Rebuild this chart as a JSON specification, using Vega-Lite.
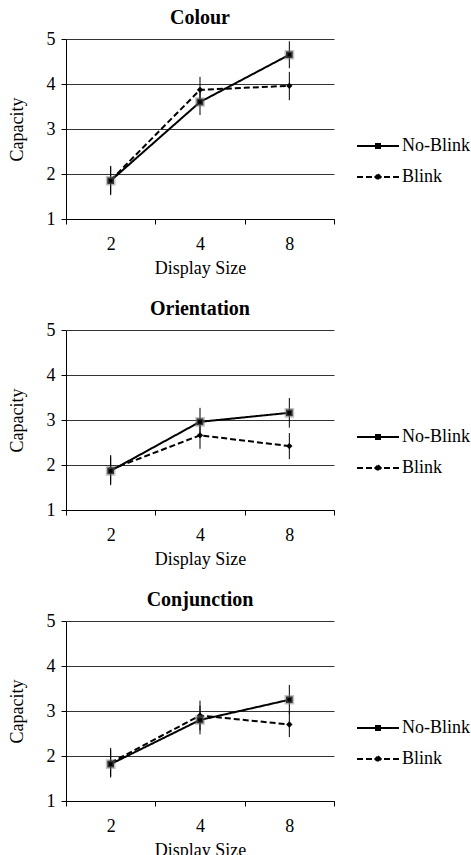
{
  "$schema": "https://vega.github.io/schema/vega-lite/v6.json",
  "padding": {"left": 8, "top": 8, "right": 0, "bottom": 0},
  "spacing": 22,
  "datasets": {
    "d": [
      {"task": "Colour", "size": 2, "cond": "No-Blink", "cap": 1.85, "lo": 1.53, "hi": 2.17},
      {"task": "Colour", "size": 4, "cond": "No-Blink", "cap": 3.6, "lo": 3.31, "hi": 3.89},
      {"task": "Colour", "size": 8, "cond": "No-Blink", "cap": 4.65, "lo": 4.35, "hi": 4.95},
      {"task": "Colour", "size": 2, "cond": "Blink", "cap": 1.86, "lo": 1.55, "hi": 2.18},
      {"task": "Colour", "size": 4, "cond": "Blink", "cap": 3.87, "lo": 3.58, "hi": 4.16},
      {"task": "Colour", "size": 8, "cond": "Blink", "cap": 3.96, "lo": 3.64, "hi": 4.27},
      {"task": "Orientation", "size": 2, "cond": "No-Blink", "cap": 1.87, "lo": 1.55, "hi": 2.19},
      {"task": "Orientation", "size": 4, "cond": "No-Blink", "cap": 2.96, "lo": 2.65, "hi": 3.27},
      {"task": "Orientation", "size": 8, "cond": "No-Blink", "cap": 3.16, "lo": 2.83, "hi": 3.49},
      {"task": "Orientation", "size": 2, "cond": "Blink", "cap": 1.9, "lo": 1.58, "hi": 2.22},
      {"task": "Orientation", "size": 4, "cond": "Blink", "cap": 2.66, "lo": 2.36, "hi": 2.96},
      {"task": "Orientation", "size": 8, "cond": "Blink", "cap": 2.42, "lo": 2.13, "hi": 2.71},
      {"task": "Conjunction", "size": 2, "cond": "No-Blink", "cap": 1.82, "lo": 1.52, "hi": 2.14},
      {"task": "Conjunction", "size": 4, "cond": "No-Blink", "cap": 2.8, "lo": 2.48, "hi": 3.12},
      {"task": "Conjunction", "size": 8, "cond": "No-Blink", "cap": 3.25, "lo": 2.93, "hi": 3.58},
      {"task": "Conjunction", "size": 2, "cond": "Blink", "cap": 1.85, "lo": 1.55, "hi": 2.18},
      {"task": "Conjunction", "size": 4, "cond": "Blink", "cap": 2.9, "lo": 2.57, "hi": 3.23},
      {"task": "Conjunction", "size": 8, "cond": "Blink", "cap": 2.7, "lo": 2.42, "hi": 2.98}
    ]
  },
  "config": {
    "font": "Liberation Serif",
    "view": {"stroke": null},
    "title": {"font": "Liberation Serif", "fontSize": 20, "fontWeight": "bold", "color": "black", "offset": 2},
    "axis": {
      "labelFont": "Liberation Serif", "titleFont": "Liberation Serif",
      "labelFontSize": 18, "titleFontSize": 18, "titleFontWeight": "normal",
      "labelColor": "black", "titleColor": "black",
      "domainColor": "black", "tickColor": "black", "tickSize": 5, "domainWidth": 1, "tickWidth": 1
    },
    "legend": {"labelFont": "Liberation Serif", "labelFontSize": 18, "labelColor": "black", "title": null, "orient": "none", "labelOffset": 2, "padding": 0, "rowPadding": -17,
      "symbolSize": 1764, "symbolStrokeWidth": 2, "symbolStrokeColor": "black", "symbolFillColor": "black", "symbolOpacity": 1, "legendX": 290, "legendY": 85}
  },
  "resolve": {"legend": {"shape": "independent", "strokeDash": "independent"}},
  "vconcat": [
    {
      "title": "Colour", "width": 268, "height": 180,
      "data": {"name": "d"},
      "transform": [{"filter": "datum.task === 'Colour'"}],
      "encoding": {
        "x": {"field": "size", "type": "quantitative",
          "scale": {"type": "log", "base": 2, "domain": [1.4142135623730951, 11.313708498984761], "nice": false, "zero": false},
          "axis": {"title": "Display Size", "grid": false, "labelOverlap": false, "labelFlush": false, "labelPadding": 11, "titlePadding": 6,
            "values": [1.4142135623730951, 2, 2.8284271247461903, 4, 5.656854249492381, 8, 11.313708498984761],
            "tickOpacity": {"condition": {"test": "abs(datum.value - round(datum.value)) < 0.001", "value": 0}, "value": 1},
            "labelExpr": "abs(datum.value - round(datum.value)) < 0.001 ? datum.label : ''"}},
        "y": {"field": "cap", "type": "quantitative",
          "scale": {"domain": [1, 5], "nice": false, "zero": false},
          "axis": {"title": "Capacity", "values": [1, 2, 3, 4, 5], "grid": true, "gridColor": "#333", "gridWidth": 1, "labelPadding": 6, "titlePadding": 20}}
      },
      "layer": [
        {"mark": {"type": "rule", "color": "black", "strokeWidth": 1}, "encoding": {"y": {"field": "lo", "type": "quantitative"}, "y2": {"field": "hi"}}},
        {"mark": {"type": "line", "color": "black", "strokeWidth": 2},
          "encoding": {"strokeDash": {"field": "cond", "type": "nominal", "scale": {"domain": ["No-Blink", "Blink"], "range": [[1, 0], [6, 3]]}}}},
        {"mark": {"type": "point", "filled": false, "color": "black", "size": 0, "strokeWidth": 2},
          "encoding": {"shape": {"field": "cond", "type": "nominal", "scale": {"domain": ["No-Blink", "Blink"], "range": ["M-1,0H1M-0.143,-0.095H0.143M-0.143,0.095H0.143", "M-1,0H1M0,-0.13L0.13,0L0,0.13L-0.13,0ZM0,-0.12V0.12"]}}}},
        {"transform": [{"filter": "datum.cond === 'Blink'"}],
          "mark": {"type": "point", "filled": true, "color": "black", "size": 40, "opacity": 1, "shape": "diamond"}},
        {"transform": [{"filter": "datum.cond === 'No-Blink'"}],
          "mark": {"type": "point", "filled": true, "fill": "black", "stroke": "#777", "strokeWidth": 3, "strokeOpacity": 0.45, "size": 45, "opacity": 1, "shape": "square"}}
      ]
    },
    {
      "title": "Orientation", "width": 268, "height": 180,
      "data": {"name": "d"},
      "transform": [{"filter": "datum.task === 'Orientation'"}],
      "encoding": {
        "x": {"field": "size", "type": "quantitative",
          "scale": {"type": "log", "base": 2, "domain": [1.4142135623730951, 11.313708498984761], "nice": false, "zero": false},
          "axis": {"title": "Display Size", "grid": false, "labelOverlap": false, "labelFlush": false, "labelPadding": 11, "titlePadding": 6,
            "values": [1.4142135623730951, 2, 2.8284271247461903, 4, 5.656854249492381, 8, 11.313708498984761],
            "tickOpacity": {"condition": {"test": "abs(datum.value - round(datum.value)) < 0.001", "value": 0}, "value": 1},
            "labelExpr": "abs(datum.value - round(datum.value)) < 0.001 ? datum.label : ''"}},
        "y": {"field": "cap", "type": "quantitative",
          "scale": {"domain": [1, 5], "nice": false, "zero": false},
          "axis": {"title": "Capacity", "values": [1, 2, 3, 4, 5], "grid": true, "gridColor": "#333", "gridWidth": 1, "labelPadding": 6, "titlePadding": 20}}
      },
      "layer": [
        {"mark": {"type": "rule", "color": "black", "strokeWidth": 1}, "encoding": {"y": {"field": "lo", "type": "quantitative"}, "y2": {"field": "hi"}}},
        {"mark": {"type": "line", "color": "black", "strokeWidth": 2},
          "encoding": {"strokeDash": {"field": "cond", "type": "nominal", "scale": {"domain": ["No-Blink", "Blink"], "range": [[1, 0], [6, 3]]}}}},
        {"mark": {"type": "point", "filled": false, "color": "black", "size": 0, "strokeWidth": 2},
          "encoding": {"shape": {"field": "cond", "type": "nominal", "scale": {"domain": ["No-Blink", "Blink"], "range": ["M-1,0H1M-0.143,-0.095H0.143M-0.143,0.095H0.143", "M-1,0H1M0,-0.13L0.13,0L0,0.13L-0.13,0ZM0,-0.12V0.12"]}}}},
        {"transform": [{"filter": "datum.cond === 'Blink'"}],
          "mark": {"type": "point", "filled": true, "color": "black", "size": 40, "opacity": 1, "shape": "diamond"}},
        {"transform": [{"filter": "datum.cond === 'No-Blink'"}],
          "mark": {"type": "point", "filled": true, "fill": "black", "stroke": "#777", "strokeWidth": 3, "strokeOpacity": 0.45, "size": 45, "opacity": 1, "shape": "square"}}
      ]
    },
    {
      "title": "Conjunction", "width": 268, "height": 180,
      "data": {"name": "d"},
      "transform": [{"filter": "datum.task === 'Conjunction'"}],
      "encoding": {
        "x": {"field": "size", "type": "quantitative",
          "scale": {"type": "log", "base": 2, "domain": [1.4142135623730951, 11.313708498984761], "nice": false, "zero": false},
          "axis": {"title": "Display Size", "grid": false, "labelOverlap": false, "labelFlush": false, "labelPadding": 11, "titlePadding": 6,
            "values": [1.4142135623730951, 2, 2.8284271247461903, 4, 5.656854249492381, 8, 11.313708498984761],
            "tickOpacity": {"condition": {"test": "abs(datum.value - round(datum.value)) < 0.001", "value": 0}, "value": 1},
            "labelExpr": "abs(datum.value - round(datum.value)) < 0.001 ? datum.label : ''"}},
        "y": {"field": "cap", "type": "quantitative",
          "scale": {"domain": [1, 5], "nice": false, "zero": false},
          "axis": {"title": "Capacity", "values": [1, 2, 3, 4, 5], "grid": true, "gridColor": "#333", "gridWidth": 1, "labelPadding": 6, "titlePadding": 20}}
      },
      "layer": [
        {"mark": {"type": "rule", "color": "black", "strokeWidth": 1}, "encoding": {"y": {"field": "lo", "type": "quantitative"}, "y2": {"field": "hi"}}},
        {"mark": {"type": "line", "color": "black", "strokeWidth": 2},
          "encoding": {"strokeDash": {"field": "cond", "type": "nominal", "scale": {"domain": ["No-Blink", "Blink"], "range": [[1, 0], [6, 3]]}}}},
        {"mark": {"type": "point", "filled": false, "color": "black", "size": 0, "strokeWidth": 2},
          "encoding": {"shape": {"field": "cond", "type": "nominal", "scale": {"domain": ["No-Blink", "Blink"], "range": ["M-1,0H1M-0.143,-0.095H0.143M-0.143,0.095H0.143", "M-1,0H1M0,-0.13L0.13,0L0,0.13L-0.13,0ZM0,-0.12V0.12"]}}}},
        {"transform": [{"filter": "datum.cond === 'Blink'"}],
          "mark": {"type": "point", "filled": true, "color": "black", "size": 40, "opacity": 1, "shape": "diamond"}},
        {"transform": [{"filter": "datum.cond === 'No-Blink'"}],
          "mark": {"type": "point", "filled": true, "fill": "black", "stroke": "#777", "strokeWidth": 3, "strokeOpacity": 0.45, "size": 45, "opacity": 1, "shape": "square"}}
      ]
    }
  ]
}
